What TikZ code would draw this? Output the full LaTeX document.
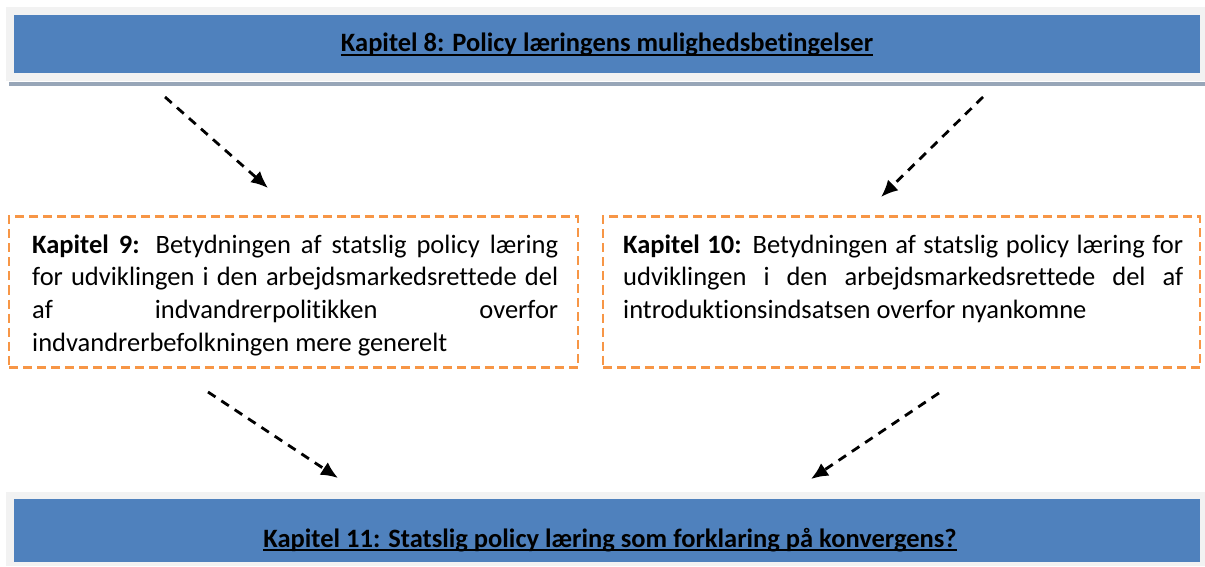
\documentclass[tikz,border=0pt]{standalone}
\usepackage{fontspec}
\setmainfont{Carlito}[Ligatures={TeX,NoCommon}]
\usetikzlibrary{arrows.meta,positioning}

\definecolor{kapblue}{HTML}{4F81BD}
\definecolor{kapgray}{HTML}{F2F2F2}
\definecolor{kapshadow}{HTML}{98A6B8}
\definecolor{kaporange}{HTML}{F79646}

\newcommand{\kapul}[1]{\setbox0\hbox{#1}\rlap{\rule[-4pt]{\wd0}{1.8pt}}\box0}
\newcommand{\fulline}[2]{\makebox[#1][s]{#2}}

\tikzset{
  kapfont/.style={font=\fontsize{26.5}{32.7}\selectfont},
  titlebox/.style={fill=kapblue,draw=none,minimum width=1186pt,inner sep=0pt},
  bgbox/.style={fill=kapgray,draw=none,inner sep=0pt},
  chapbox/.style={draw=kaporange,line width=2.5pt,dash pattern=on 9pt off 5pt,minimum width=569pt,minimum height=151pt,inner sep=0pt},
  flow/.style={line width=2.8pt,dash pattern=on 9pt off 7pt,-{Latex[length=17pt,width=15pt]}}
}

\begin{document}
\begin{tikzpicture}[x=1pt,y=1pt]
\useasboundingbox (0,0) rectangle (1205,566);

% top
\fill[kapshadow] (9,480) rectangle (1205,484);
\node[bgbox,minimum width=1199pt,minimum height=74pt] (topbg) at (605.5,522) {};
\node[titlebox,minimum height=58pt] (k8) at (607,522) {};
\node[kapfont,anchor=base] (k8txt) at (607,514) {\textbf{\kapul{Kapitel 8: Policy læringens mulighedsbetingelser}}};

% middle (text anchored on its last line)
\node[chapbox] (k9) at (293.5,274) {};
\node[chapbox,minimum width=597pt] (k10) at (901.5,274) {};
\node[kapfont,align=left,anchor=base west,inner sep=0pt] (k9txt) at (32,214.9) {%
\fulline{526pt}{\textbf{Kapitel 9:} Betydningen af statslig policy læring}\\
\fulline{526pt}{for udviklingen i den arbejdsmarkedsrettede del}\\
\fulline{526pt}{af indvandrerpolitikken overfor}\\
indvandrerbefolkningen mere generelt};
\node[kapfont,align=left,anchor=base west,inner sep=0pt] (k10txt) at (623,247.6) {%
\fulline{560pt}{\textbf{Kapitel 10:} Betydningen af statslig policy læring for}\\
\fulline{560pt}{udviklingen i den arbejdsmarkedsrettede del af}\\
introduktionsindsatsen overfor nyankomne};

% bottom
\node[bgbox,minimum width=1199pt,minimum height=74pt,anchor=south west] (botbg) at (6,0) {};
\node[titlebox,minimum height=63pt] (k11) at (607,35.5) {};
\node[kapfont,anchor=base] (k11txt) at (610,19) {\textbf{\kapul{Kapitel 11: Statslig policy læring som forklaring på konvergens?}}};

% arrows
\coordinate (a1) at (165,469);
\coordinate (b1) at (268,378);
\coordinate (a2) at (983,469);
\coordinate (b2) at (881,369);
\coordinate (a3) at (208,174);
\coordinate (b3) at (338,88);
\coordinate (a4) at (939,173);
\coordinate (b4) at (811,87);
\draw[flow] (a1) -- (b1);
\draw[flow] (a2) -- (b2);
\draw[flow] (a3) -- (b3);
\draw[flow] (a4) -- (b4);
\end{tikzpicture}
\end{document}
